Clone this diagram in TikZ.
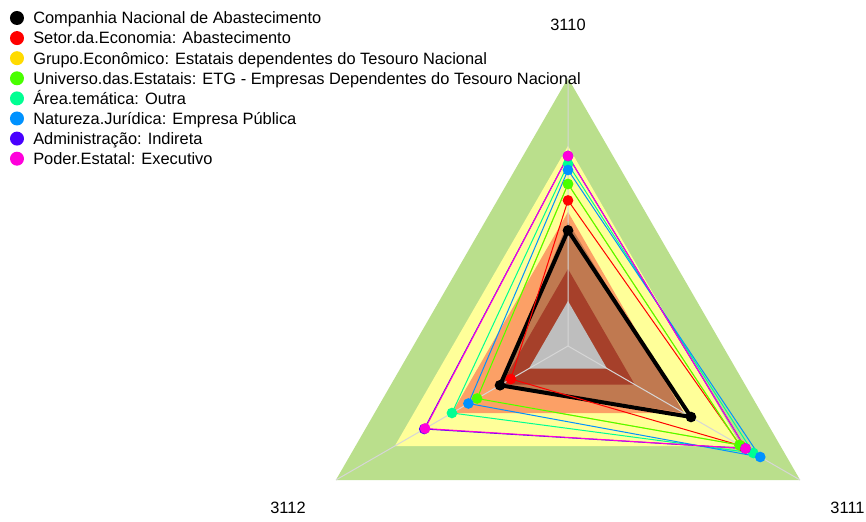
\documentclass[tikz,border=0pt]{standalone}
\usepackage{fontspec}
\setmainfont{Liberation Sans}
\definecolor{bandgreen}{RGB}{186,223,140}
\definecolor{bandyellow}{RGB}{255,255,153}
\definecolor{bandorange}{RGB}{252,160,102}
\definecolor{bandbrown}{RGB}{192,121,80}
\definecolor{bandred}{RGB}{166,64,42}
\definecolor{bandgrey}{RGB}{190,190,190}
\definecolor{cRed}{HTML}{FF0000}
\definecolor{cGold}{HTML}{FFDB00}
\definecolor{cGreen}{HTML}{49FF00}
\definecolor{cSpring}{HTML}{00FF92}
\definecolor{cBlue}{HTML}{0092FF}
\definecolor{cPurple}{HTML}{4900FF}
\definecolor{cMagenta}{HTML}{FF00DB}
\begin{document}
\begin{tikzpicture}[x=0.75pt,y=0.75pt,
  spoke/.style={draw=black!16,line width=0.75pt},
  serie/.style={line join=round},
  dot/.style={circle,draw=none,inner sep=0pt,minimum size=8pt},
  lbl/.style={font=\fontsize{12.3}{14}\selectfont,inner sep=0pt,text height=8.8pt,text depth=0pt}]
\useasboundingbox (-568,-175) rectangle (298,346);
%bands
\fill[bandgreen] (90:268) -- (-30:268) -- (210:268) -- cycle;
\fill[bandyellow] (90:200) -- (-30:200) -- (210:200) -- cycle;
\fill[bandorange] (90:134) -- (-30:134) -- (210:134) -- cycle;
\fill[bandbrown] (90:124) -- (-30:134) -- (210:78) -- cycle;
\fill[bandred] (90:77) -- (-30:77) -- (210:77) -- cycle;
\fill[bandgrey] (90:45) -- (-30:45) -- (210:45) -- cycle;
%axes
\coordinate (o) at (0,0);
\foreach \a/\n in {90/3110,-30/3111,210/3112} {\coordinate (ax\n) at (\a:268);}
\draw[spoke] (o) -- (ax3110) (o) -- (ax3111) (o) -- (ax3112);
\node[lbl] (l3110) at (0,321) {3110};
\node[lbl] (l3111) at (279.5,-162) {3111};
\node[lbl] (l3112) at (-280,-162) {3112};
%series
\foreach \c/\ra/\rb/\rc/\w [count=\i] in {black/115.6/142/78.5/3,
  cRed/145.6/199/66/0.75, cGold/162/198/105/0.75, cGreen/162/198/105/0.75,
  cSpring/182/214/134/0.75, cBlue/176/222/115/0.75,
  cPurple/190/205/166/0.75, cMagenta/190/205/165/0.75} {
  \coordinate (s\i a) at (90:\ra);
  \coordinate (s\i b) at (-30:\rb);
  \coordinate (s\i c) at (210:\rc);
  \draw[serie,draw=\c,line width=\w pt] (s\i a) -- (s\i b) -- (s\i c) -- cycle;
}
\foreach \c [count=\i] in {black,cRed,cGold,cGreen,cSpring,cBlue,cPurple,cMagenta}
  \foreach \v in {a,b,c} {\node[dot,fill=\c] (d\i\v) at (s\i\v) {};}
%legend
\foreach \c/\t [count=\i] in {black/Companhia Nacional de Abastecimento,
  cRed/Setor.da.Economia: Abastecimento,
  cGold/Grupo.Econômico: Estatais dependentes do Tesouro Nacional,
  cGreen/Universo.das.Estatais: ETG - Empresas Dependentes do Tesouro Nacional,
  cSpring/Área.temática: Outra,
  cBlue/Natureza.Jurídica: Empresa Pública,
  cPurple/Administração: Indireta,
  cMagenta/Poder.Estatal: Executivo} {
  \node[dot,minimum size=10.5pt,fill=\c] (k\i) at (-551,{328-(\i-1)*20.1}) {};
  \node[lbl,anchor=west] (t\i) at (-535,{328-(\i-1)*20.1}) {\t};
}
\end{tikzpicture}
\end{document}
